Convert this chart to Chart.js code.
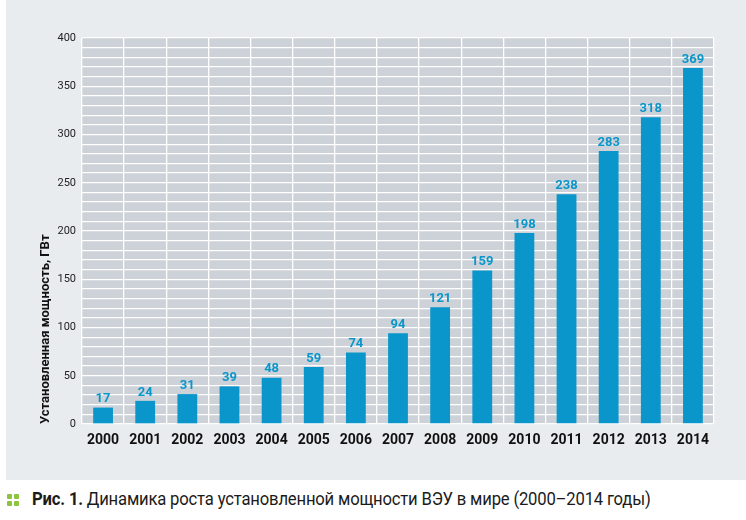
<!DOCTYPE html>
<html>
<head>
<meta charset="utf-8">
<script src="https://cdn.jsdelivr.net/npm/chart.js@4"></script>
<style>
  body { margin: 0; background: #fff; }
  #wrap { position: relative; width: 746px; height: 520px; overflow: hidden; }
  #panel { position: absolute; left: 6px; top: 0; width: 740px; height: 480px; background: #e9ecef; }
  #box { position: absolute; left: 0; top: 0; width: 746px; height: 480px; }
  #caption { position: absolute; left: 32px; top: 488px; font-family: Roboto, sans-serif; font-size: 18px; color: #1b1b1b; white-space: nowrap; letter-spacing: -0.2px; transform: scaleX(0.925); transform-origin: left center; }
  #caption b { font-weight: bold; }
  .dot { position: absolute; width: 5px; height: 5px; background: #8cc43e; border-radius: 1px; }
</style>
</head>
<body>
<div id="wrap">
  <div id="panel"></div>
  <div id="box"><canvas id="myChart" width="746" height="480"></canvas></div>
  <span class="dot" style="left:7px;top:494px"></span>
  <span class="dot" style="left:14px;top:494px"></span>
  <span class="dot" style="left:7px;top:501px"></span>
  <span class="dot" style="left:14px;top:501px"></span>
  <div id="caption"><b>Рис. 1.</b> Динамика роста установленной мощности ВЭУ в мире (2000–2014 годы)</div>
</div>
<script>
var years = ["2000", "2001", "2002", "2003", "2004", "2005", "2006", "2007", "2008", "2009", "2010", "2011", "2012", "2013", "2014"];
var capacity = [17, 24, 31, 39, 48, 59, 74, 94, 121, 159, 198, 238, 283, 318, 369];
var yTitle = "Установленная мощность, ГВт";

var fam = "Roboto, sans-serif";
var blue = "#0b96cb";

// gray plot background
var plotBg = {
  id: "plotBg",
  beforeDraw: function (chart) {
    var a = chart.chartArea;
    var ctx = chart.ctx;
    ctx.save();
    ctx.fillStyle = "#ccd2d8";
    ctx.fillRect(a.left, a.top, a.right - a.left, a.bottom - a.top);
    ctx.restore();
  }
};

// value labels above the bars
var barValues = {
  id: "barValues",
  afterDatasetsDraw: function (chart) {
    var ctx = chart.ctx;
    var meta = chart.getDatasetMeta(0);
    ctx.save();
    ctx.fillStyle = blue;
    ctx.font = "bold 13px " + fam;
    ctx.textAlign = "center";
    ctx.textBaseline = "bottom";
    meta.data.forEach(function (bar, i) {
      ctx.fillText(capacity[i], bar.x, bar.y - 2);
    });
    ctx.restore();
  }
};

new Chart(document.getElementById("myChart"), {
  type: "bar",
  data: {
    labels: years,
    datasets: [{
      data: capacity,
      backgroundColor: blue,
      barPercentage: 0.47,
      categoryPercentage: 1
    }]
  },
  options: {
    responsive: false,
    animation: false,
    layout: { padding: { top: 38, right: 32, left: 0, bottom: 0 } },
    plugins: { legend: { display: false }, tooltip: { enabled: false } },
    scales: {
      x: {
        grid: { color: "#ffffff", lineWidth: 1.3, drawTicks: false },
        border: { display: false },
        ticks: { color: "#111", padding: 8, maxRotation: 0, autoSkip: false, font: { family: fam, size: 14, weight: "bold" } },
        afterFit: function (s) { s.height = 56; }
      },
      y: {
        min: 0,
        max: 400,
        grid: { color: "#ffffff", lineWidth: 1.3, drawTicks: false },
        border: { display: false },
        ticks: {
          stepSize: 10,
          autoSkip: false,
          padding: 6,
          color: "#222",
          font: { family: fam, size: 11 },
          callback: function (v) { return v % 50 === 0 ? v : ""; }
        },
        title: {
          display: true,
          text: yTitle,
          align: "start",
          color: "#111",
          padding: { top: 38, bottom: 0 },
          font: { family: fam, size: 13, weight: "bold" }
        },
        afterFit: function (s) { s.width = 82; }
      }
    }
  },
  plugins: [plotBg, barValues]
});
</script>
</body>
</html>
